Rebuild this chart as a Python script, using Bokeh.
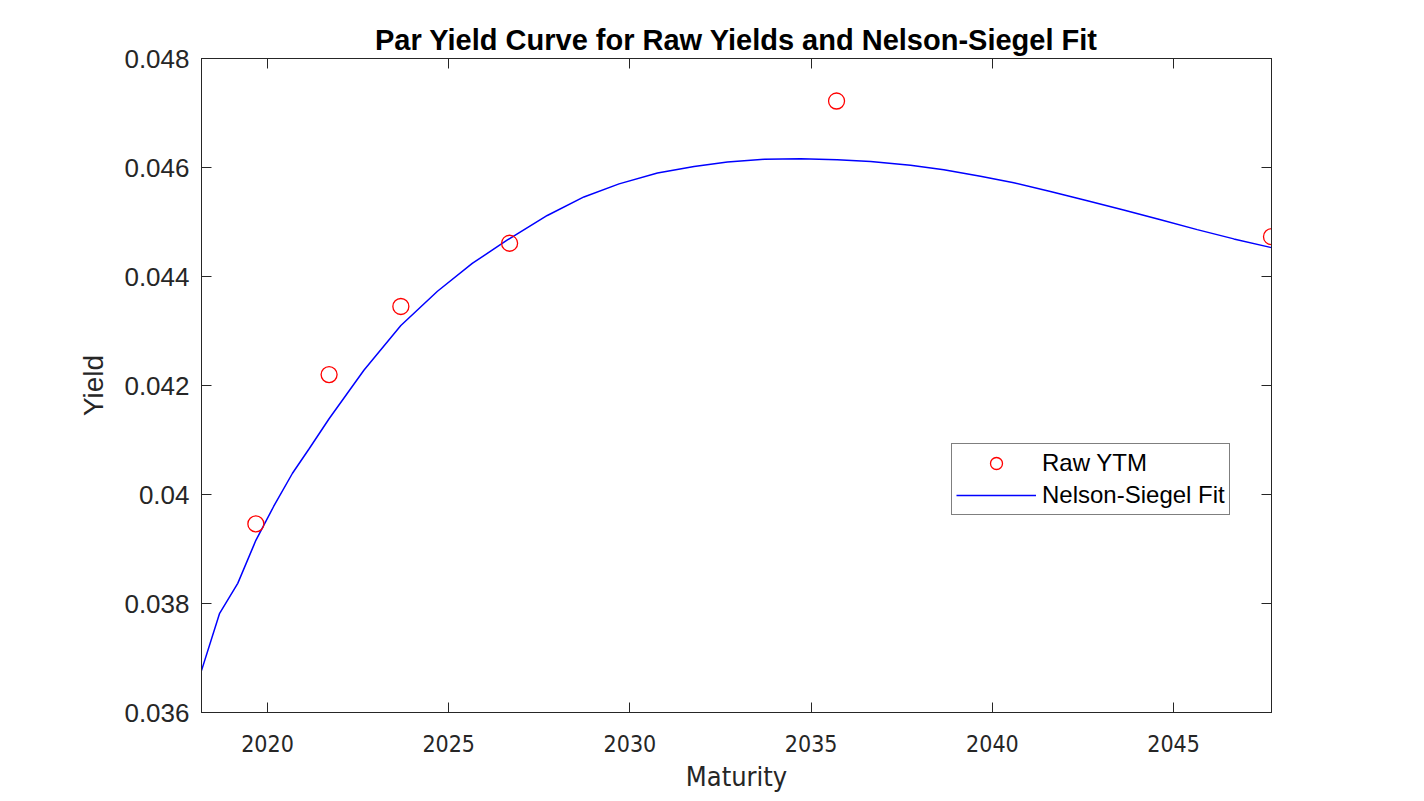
from bokeh.plotting import figure
from bokeh.models import FixedTicker, LinearAxis, Legend, LegendItem, Range1d, CustomJSTickFormatter
from bokeh.embed import file_html
from bokeh.resources import INLINE

# Raw yields to maturity (maturity in decimal years)
raw_maturity = [2019.68, 2021.70, 2023.68, 2026.68, 2035.70, 2047.70]
raw_ytm = [0.03946, 0.04220, 0.04345, 0.04461, 0.04722, 0.04473]

# Nelson-Siegel fitted curve
fit_maturity = [2018.18, 2018.68, 2019.18, 2019.68, 2020.17, 2020.69, 2021.15, 2021.70,
                2022.66, 2023.68, 2024.69, 2025.65, 2026.62, 2027.72, 2028.73, 2029.70,
                2030.76, 2031.77, 2032.69, 2033.70, 2034.71, 2035.72, 2036.64, 2037.74,
                2038.66, 2039.67, 2040.59, 2041.60, 2042.62, 2043.62, 2044.64, 2045.65,
                2046.66, 2047.70]
fit_yield = [0.03677, 0.03782, 0.03837, 0.03916, 0.03978, 0.04039, 0.04084, 0.04139,
             0.04228, 0.04310, 0.04373, 0.04424, 0.04467, 0.04512, 0.04546, 0.04570,
             0.04590, 0.04602, 0.04610, 0.04615, 0.04616, 0.04614, 0.04611, 0.04604,
             0.04596, 0.04584, 0.04572, 0.04556, 0.04539, 0.04522, 0.04504, 0.04486,
             0.04469, 0.04453]

x_ticks = [2020, 2025, 2030, 2035, 2040, 2045]
x_tick_labels = ["2020", "2025", "2030", "2035", "2040", "2045"]
y_ticks = [0.036, 0.038, 0.040, 0.042, 0.044, 0.046, 0.048]
y_tick_labels = ["0.036", "0.038", "0.04", "0.042", "0.044", "0.046", "0.048"]

title = "Par Yield Curve for Raw Yields and Nelson-Siegel Fit"
x_label = "Maturity"
y_label = "Yield"

TXT = "#262626"
NARROW = "'DejaVu Sans Condensed', 'Liberation Sans', sans-serif"

p = figure(width=1424, height=801, output_backend="svg", toolbar_location=None,
           x_range=Range1d(2018.18, 2047.70), y_range=Range1d(0.036, 0.048),
           min_border_left=201, min_border_right=153, min_border_top=58, min_border_bottom=89)
p.background_fill_color = "white"
p.border_fill_color = "white"
p.outline_line_color = TXT
p.outline_line_width = 1
p.xgrid.visible = False
p.ygrid.visible = False

p.title.text = title
p.title.align = "center"
p.title.text_font = "Liberation Sans"
p.title.text_font_size = "29px"
p.title.text_font_style = "bold"
p.title.text_color = "black"
p.title.standoff = 5

line = p.line(fit_maturity, fit_yield, line_color="#0000FF", line_width=1.5)
pts = p.scatter(raw_maturity, raw_ytm, marker="circle", size=16, fill_color=None,
                line_color="#FF0000", line_width=1.3)

xa = p.xaxis[0]
xa.ticker = FixedTicker(ticks=x_ticks)
xa.major_label_overrides = {t: l for t, l in zip(x_ticks, x_tick_labels)}
xa.axis_label = x_label
ya = p.yaxis[0]
ya.ticker = FixedTicker(ticks=y_ticks)
ya.major_label_overrides = {t: l for t, l in zip(y_ticks, y_tick_labels)}
ya.axis_label = y_label

for ax in (xa, ya):
    ax.axis_line_color = TXT
    ax.major_tick_line_color = TXT
    ax.major_tick_in = 10
    ax.major_tick_out = 0
    ax.minor_tick_line_color = None
    ax.major_label_text_color = TXT
    ax.axis_label_text_color = TXT
    ax.axis_label_text_font_style = "normal"

xa.major_label_text_font = NARROW
xa.major_label_text_font_size = "23px"
xa.major_label_standoff = 22
xa.axis_label_text_font = NARROW
xa.axis_label_text_font_size = "27px"
xa.axis_label_standoff = 6

ya.major_label_text_font = "Liberation Sans"
ya.major_label_text_font_size = "26px"
ya.major_label_standoff = 12
ya.axis_label_text_font = "Liberation Sans"
ya.axis_label_text_font_size = "28px"
ya.axis_label_standoff = 12

empty = CustomJSTickFormatter(code="return ''")
top = LinearAxis(ticker=FixedTicker(ticks=x_ticks), formatter=empty,
                 axis_line_color=TXT, major_tick_line_color=TXT, major_tick_in=10,
                 major_tick_out=0, minor_tick_line_color=None, major_label_standoff=0)
right = LinearAxis(ticker=FixedTicker(ticks=y_ticks), formatter=empty,
                   axis_line_color=TXT, major_tick_line_color=TXT, major_tick_in=10,
                   major_tick_out=0, minor_tick_line_color=None, major_label_standoff=0)
p.add_layout(top, "above")
p.add_layout(right, "right")

legend = Legend(items=[LegendItem(label="Raw YTM", renderers=[pts]),
                       LegendItem(label="Nelson-Siegel Fit", renderers=[line])],
                location=(750, 197), orientation="vertical")
legend.border_line_color = "black"
legend.border_line_width = 1
legend.background_fill_color = "white"
legend.background_fill_alpha = 1
legend.label_text_font = "Liberation Sans"
legend.label_text_font_size = "24px"
legend.label_text_color = "black"
legend.glyph_width = 80
legend.glyph_height = 30
legend.label_height = 30
legend.label_standoff = 6
legend.padding = 4
legend.spacing = 2
legend.margin = 0
p.add_layout(legend, "center")

open("out.html", "w").write(file_html(p, INLINE))
